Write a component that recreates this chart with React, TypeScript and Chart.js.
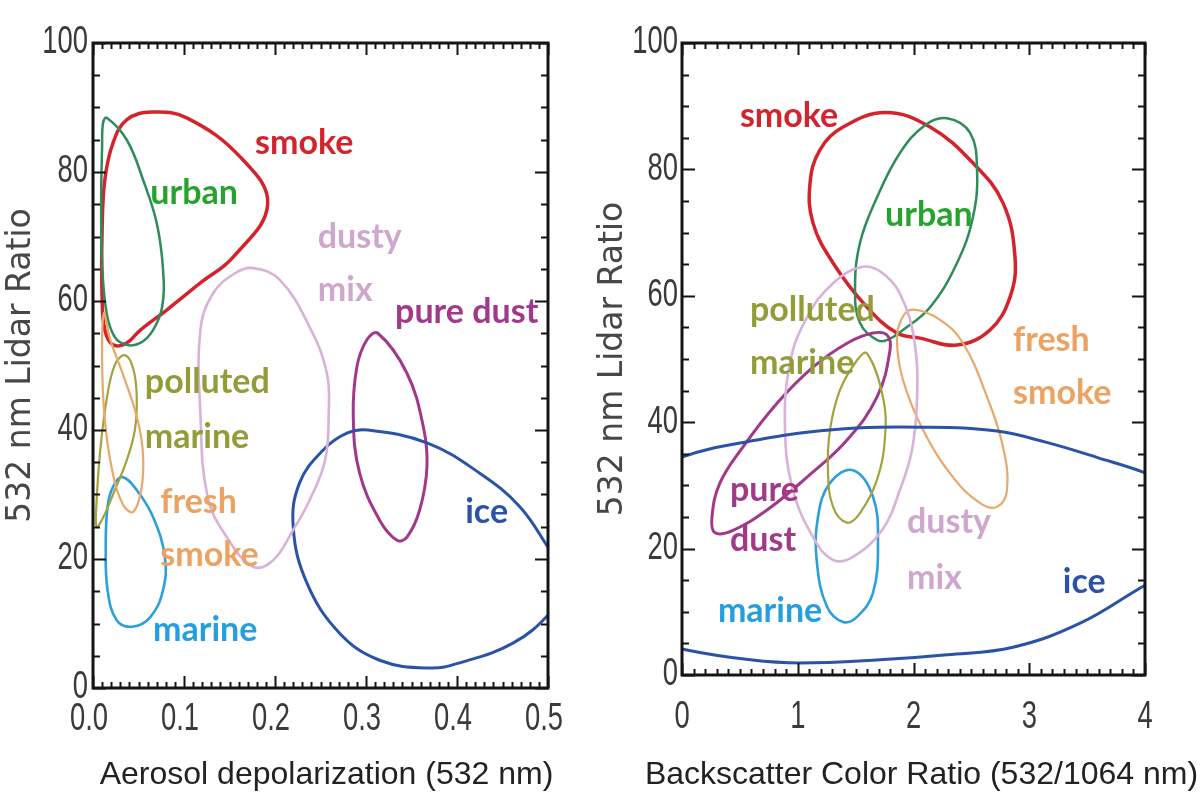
import React, { useEffect, useRef } from 'react';
import { Chart, registerables } from 'chart.js';

Chart.register(...registerables);

type P = [number, number];

// ---------- Left panel: Aerosol depolarization vs 532 nm lidar ratio ----------
const L_SMOKE: P[] = [[0.065, 89.3], [0.103, 88.4], [0.162, 82.3], [0.192, 75.0], [0.154, 66.8], [0.118, 62.8], [0.081, 58.6], [0.052, 55.5], [0.037, 53.5], [0.022, 53.2], [0.013, 55.5], [0.010, 60.6], [0.010, 71.0], [0.013, 78.8], [0.022, 84.5], [0.037, 88.1]];
const L_URBAN: P[] = [[0.015, 88.4], [0.037, 85.0], [0.055, 78.8], [0.070, 72.1], [0.077, 64.8], [0.076, 59.1], [0.066, 55.5], [0.052, 53.5], [0.037, 53.2], [0.024, 54.4], [0.015, 58.1], [0.010, 65.9], [0.009, 76.1], [0.010, 83.9], [0.011, 87.6]];
const L_POLLUTED: P[] = [[0.035, 51.6], [0.044, 49.6], [0.048, 45.4], [0.046, 40.0], [0.037, 35.3], [0.024, 30.7], [0.011, 26.4], [0.004, 25.0], [0.004, 29.1], [0.008, 36.9], [0.015, 44.7], [0.024, 50.1]];
const L_FRESH: P[] = [[0.012, 58.1], [0.019, 54.0], [0.035, 47.8], [0.049, 41.6], [0.055, 36.1], [0.053, 30.7], [0.044, 27.3], [0.033, 28.4], [0.021, 33.8], [0.013, 41.6], [0.010, 50.9]];
const L_MARINE: P[] = [[0.032, 32.7], [0.048, 30.7], [0.066, 26.5], [0.079, 20.3], [0.077, 15.2], [0.063, 11.0], [0.043, 9.5], [0.026, 10.5], [0.016, 15.2], [0.014, 21.9], [0.016, 28.1], [0.022, 31.2]];
const L_DUSTY: P[] = [[0.176, 65.1], [0.205, 63.3], [0.238, 56.0], [0.257, 48.8], [0.259, 42.6], [0.255, 35.3], [0.238, 29.1], [0.220, 24.5], [0.198, 19.8], [0.176, 18.8], [0.147, 23.4], [0.126, 29.6], [0.118, 42.6], [0.118, 55.5], [0.132, 61.2], [0.156, 64.3]];
const L_PURE: P[] = [[0.313, 55.0], [0.345, 48.8], [0.363, 40.5], [0.367, 34.3], [0.359, 27.6], [0.345, 23.4], [0.334, 22.9], [0.315, 26.0], [0.293, 33.3], [0.286, 42.0], [0.290, 49.8], [0.301, 54.0]];
const L_ICE: P[] = [[0.302, 40.0], [0.367, 38.0], [0.425, 33.3], [0.469, 28.1], [0.502, 21.4], [0.525, 16.5], [0.502, 11.6], [0.462, 7.0], [0.403, 3.9], [0.370, 3.1], [0.315, 4.3], [0.271, 8.5], [0.235, 16.3], [0.220, 25.0], [0.227, 31.8], [0.253, 36.9], [0.279, 39.5]];

const LEFT_LABEL_TEXT = ['smoke', 'urban', 'dusty', 'mix', 'pure dust', 'polluted', 'marine', 'fresh', 'smoke', 'ice', 'marine'];
const LEFT_LABEL_X = [0.178, 0.063, 0.247, 0.247, 0.332, 0.057, 0.057, 0.074, 0.074, 0.409, 0.066];
const LEFT_LABEL_Y = [84.5, 76.7, 69.9, 61.7, 58.3, 47.4, 38.9, 28.8, 20.6, 27.3, 9.0];
const LEFT_LABEL_KIND = ['smoke', 'urban', 'dusty', 'dusty', 'pure', 'polluted', 'polluted', 'fresh', 'fresh', 'ice', 'marine'];

// ---------- Right panel: Backscatter color ratio vs 532 nm lidar ratio ----------
const R_SMOKE: P[] = [[1.76, 89.0], [2.143, 86.7], [2.514, 81.0], [2.773, 74.7], [2.877, 66.1], [2.834, 59.8], [2.661, 54.6], [2.376, 52.2], [2.056, 53.3], [1.857, 54.1], [1.598, 58.2], [1.305, 65.2], [1.132, 71.5], [1.106, 77.8], [1.192, 83.1], [1.391, 86.7]];
const R_URBAN: P[] = [[2.289, 88.1], [2.488, 85.8], [2.549, 79.9], [2.514, 72.5], [2.376, 65.2], [2.143, 58.2], [1.909, 54.6], [1.771, 53.0], [1.685, 53.0], [1.538, 55.7], [1.495, 60.9], [1.538, 68.4], [1.685, 75.6], [1.883, 82.6], [2.099, 87.0]];
const R_DUSTY: P[] = [[1.564, 64.6], [1.754, 63.3], [1.909, 59.3], [2.013, 52.2], [2.030, 43.5], [1.987, 35.6], [1.883, 29.3], [1.728, 22.9], [1.477, 18.7], [1.305, 18.2], [1.132, 21.8], [0.959, 29.3], [0.890, 38.8], [0.933, 49.4], [1.080, 56.6], [1.305, 62.0]];
const R_PURE: P[] = [[1.797, 51.4], [1.685, 44.0], [1.426, 37.2], [1.080, 31.3], [0.734, 26.1], [0.441, 22.9], [0.285, 22.5], [0.259, 25.0], [0.328, 30.4], [0.527, 36.1], [0.821, 43.0], [1.132, 48.7], [1.426, 52.5], [1.650, 54.1], [1.771, 53.8]];
const R_POLLUTED: P[] = [[1.598, 50.9], [1.736, 44.0], [1.754, 37.7], [1.685, 30.9], [1.538, 25.6], [1.426, 24.1], [1.305, 26.6], [1.261, 32.4], [1.279, 38.8], [1.365, 45.1], [1.512, 49.8]];
const R_MARINE: P[] = [[1.477, 32.4], [1.650, 28.2], [1.693, 20.9], [1.650, 13.0], [1.512, 9.2], [1.391, 8.4], [1.253, 10.8], [1.166, 17.7], [1.175, 25.0], [1.279, 30.4]];
const R_FRESH: P[] = [[1.996, 57.8], [2.229, 56.2], [2.428, 52.5], [2.635, 44.0], [2.773, 36.1], [2.808, 29.3], [2.721, 26.6], [2.575, 27.2], [2.341, 31.3], [2.082, 38.8], [1.909, 46.7], [1.857, 53.0], [1.901, 56.5]];
const R_ICE: P[] = [[0.0, 34.5], [0.5, 36.7], [1.3, 38.8], [2.14, 39.2], [2.72, 38.6], [3.15, 36.8], [3.59, 34.4], [4.0, 32.0], [4.3, 29.5], [4.55, 23.0], [4.35, 17.5], [4.0, 14.2], [3.44, 8.2], [2.86, 4.4], [2.29, 3.2], [1.71, 2.4], [1.02, 1.9], [0.59, 2.4], [0.03, 4.0], [-0.5, 6.5], [-0.95, 14.0], [-1.0, 22.0], [-0.6, 30.0]];

const RIGHT_LABEL_TEXT = ['smoke', 'urban', 'polluted', 'marine', 'fresh', 'smoke', 'pure', 'dust', 'dusty', 'mix', 'ice', 'marine'];
const RIGHT_LABEL_X = [0.50, 1.754, 0.587, 0.587, 2.86, 2.86, 0.415, 0.415, 1.944, 1.944, 3.29, 0.31];
const RIGHT_LABEL_Y = [88.4, 72.8, 57.8, 49.4, 53.0, 44.6, 29.3, 21.4, 24.2, 15.3, 14.7, 10.1];
const RIGHT_LABEL_KIND = ['smoke', 'urban', 'polluted', 'polluted', 'fresh', 'fresh', 'pure', 'pure', 'dusty', 'dusty', 'ice', 'marine'];

const X_LEFT_TICKS = ['0.0', '0.1', '0.2', '0.3', '0.4', '0.5'];
const X_RIGHT_TICKS = ['0', '1', '2', '3', '4'];
const Y_TICKS = ['0', '20', '40', '60', '80', '100'];

// ---------- styles ----------
const CURVE_COLOR: Record<string, string> = {
  smoke: '#d3232d', urban: '#2e8c5a', polluted: '#a3a23e', fresh: '#eaa76a',
  marine: '#2c9fdc', dusty: '#d9b2d9', pure: '#a2388a', ice: '#2a53a8',
};
const LABEL_COLOR: Record<string, string> = {
  smoke: '#d3232d', urban: '#26a32c', polluted: '#929d3a', fresh: '#eca262',
  marine: '#239fe0', dusty: '#cfa6cd', pure: '#a2388a', ice: '#2a53a8',
};
const CURVE_WIDTH: Record<string, number> = {
  smoke: 3.5, urban: 2.5, polluted: 2.2, fresh: 2.2, marine: 2.6, dusty: 2.6, pure: 3, ice: 3,
};

function closedDataset(kind: string, pts: P[]) {
  const n = pts.length;
  const loop = [pts[n - 1], ...pts, pts[0], pts[1]].map(([x, y]) => ({ x, y }));
  return {
    data: loop,
    showLine: true,
    fill: false,
    tension: 0.4,
    capBezierPoints: false,
    borderColor: CURVE_COLOR[kind],
    borderWidth: CURVE_WIDTH[kind],
    pointRadius: 0,
    pointHoverRadius: 0,
    segment: {
      borderColor: (ctx: any) =>
        ctx.p0DataIndex === 0 || ctx.p0DataIndex === n + 1 ? 'rgba(0,0,0,0)' : undefined,
    },
  };
}

type Spec = {
  minorX: number; majorXEvery: number; nX: number; xStep: number;
  xTicks: string[]; xTickDx: number; xTickDy: number; yTickDx: number;
  xTitle: string; xTitleDx: number;
  labels: { t: string[]; x: number[]; y: number[]; k: string[] };
};

const TICK_FONT = '38px "Liberation Sans", Arial, sans-serif';
const TITLE_FONT = '32px "Liberation Sans", Arial, sans-serif';
const LABEL_FONT = 'bold 34px Lato, "Open Sans", sans-serif';

function drawNarrow(ctx: CanvasRenderingContext2D, text: string, x: number, y: number, align: CanvasTextAlign) {
  ctx.save();
  ctx.translate(x, y);
  ctx.scale(0.72, 1);
  ctx.textAlign = align;
  ctx.textBaseline = 'middle';
  ctx.fillText(text, 0, 0);
  ctx.restore();
}

function panelPlugin(spec: Spec) {
  return {
    id: 'panelFrame',
    afterDatasetsDraw(chart: any) {
      const { ctx, chartArea: a, scales } = chart;
      const xs = scales.x, ys = scales.y;
      ctx.save();
      // inward tick marks on all four sides
      ctx.strokeStyle = '#141414';
      ctx.lineWidth = 2;
      ctx.beginPath();
      for (let i = 0; i <= spec.nX; i++) {
        const px = Math.round(xs.getPixelForValue(xs.min + i * spec.minorX)) + 0.5;
        const len = i % spec.majorXEvery === 0 ? 12 : 6;
        ctx.moveTo(px, a.bottom); ctx.lineTo(px, a.bottom - len);
        ctx.moveTo(px, a.top); ctx.lineTo(px, a.top + len);
      }
      for (let i = 0; i <= 20; i++) {
        const py = Math.round(ys.getPixelForValue(i * 5)) + 0.5;
        const len = i % 4 === 0 ? 13 : 7;
        ctx.moveTo(a.left, py); ctx.lineTo(a.left + len, py);
        ctx.moveTo(a.right, py); ctx.lineTo(a.right - len, py);
      }
      ctx.stroke();
      ctx.lineWidth = 3;
      ctx.strokeRect(a.left, a.top, a.right - a.left, a.bottom - a.top);

      // tick labels (narrow face)
      ctx.fillStyle = '#3a3a3a';
      ctx.font = TICK_FONT;
      spec.xTicks.forEach((t, i) => {
        drawNarrow(ctx, t, xs.getPixelForValue(i * spec.xStep) + spec.xTickDx, a.bottom + spec.xTickDy, 'center');
      });
      Y_TICKS.forEach((t, i) => {
        drawNarrow(ctx, t, a.left - spec.yTickDx, ys.getPixelForValue(i * 20), 'right');
      });

      // x axis title
      ctx.fillStyle = '#222';
      ctx.font = TITLE_FONT;
      ctx.textAlign = 'center';
      ctx.textBaseline = 'middle';
      ctx.fillText(spec.xTitle, (a.left + a.right) / 2 + spec.xTitleDx, 775);

      // region labels
      ctx.font = LABEL_FONT;
      ctx.textAlign = 'left';
      const L = spec.labels;
      for (let i = 0; i < L.t.length; i++) {
        ctx.fillStyle = LABEL_COLOR[L.k[i]];
        ctx.fillText(L.t[i], xs.getPixelForValue(L.x[i]), ys.getPixelForValue(L.y[i]));
      }
      ctx.restore();
    },
  };
}

const YTITLE_FONT = { family: '"DejaVu Sans", sans-serif', size: 33, lineHeight: 1.2 };

function makeConfig(opts: {
  datasets: any[]; xMax: number; yWidth: number; xHeight: number; padRight: number; yTitlePad: number; spec: Spec;
}) {
  return {
    type: 'scatter' as const,
    data: { datasets: opts.datasets },
    options: {
      responsive: false,
      animation: false as const,
      events: [],
      layout: { padding: { top: 43, right: opts.padRight, left: 0, bottom: 0 } },
      plugins: { legend: { display: false }, tooltip: { enabled: false } },
      scales: {
        x: {
          type: 'linear' as const, min: 0, max: opts.xMax,
          grid: { display: false, drawTicks: false }, border: { display: false },
          ticks: { display: false },
          afterFit: (s: any) => { s.height = opts.xHeight; },
        },
        y: {
          type: 'linear' as const, min: 0, max: 100,
          grid: { display: false, drawTicks: false }, border: { display: false },
          ticks: { display: false, stepSize: 20 },
          title: { display: true, text: '532 nm Lidar Ratio', color: '#474747', font: YTITLE_FONT, padding: { top: opts.yTitlePad, bottom: 0 } },
          afterFit: (s: any) => { s.width = opts.yWidth; },
        },
      },
    },
    plugins: [panelPlugin(opts.spec)],
  };
}

export default function App() {
  const leftRef = useRef<HTMLCanvasElement>(null);
  const rightRef = useRef<HTMLCanvasElement>(null);

  useEffect(() => {
    const leftSets = [
      closedDataset('dusty', L_DUSTY), closedDataset('ice', L_ICE), closedDataset('pure', L_PURE),
      closedDataset('fresh', L_FRESH), closedDataset('polluted', L_POLLUTED), closedDataset('marine', L_MARINE),
      closedDataset('urban', L_URBAN), closedDataset('smoke', L_SMOKE),
    ];
    const rightSets = [
      closedDataset('ice', R_ICE), closedDataset('dusty', R_DUSTY), closedDataset('fresh', R_FRESH),
      closedDataset('polluted', R_POLLUTED), closedDataset('marine', R_MARINE), closedDataset('pure', R_PURE),
      closedDataset('urban', R_URBAN), closedDataset('smoke', R_SMOKE),
    ];
    const left = new Chart(leftRef.current as HTMLCanvasElement, makeConfig({
      datasets: leftSets, xMax: 0.5, yWidth: 93, xHeight: 120, padRight: 52, yTitlePad: 2,
      spec: {
        minorX: 0.01, majorXEvery: 10, nX: 50, xStep: 0.1, xTicks: X_LEFT_TICKS, xTickDx: -4, xTickDy: 32, yTickDx: 5,
        xTitle: 'Aerosol depolarization (532 nm)', xTitleDx: 6,
        labels: { t: LEFT_LABEL_TEXT, x: LEFT_LABEL_X, y: LEFT_LABEL_Y, k: LEFT_LABEL_KIND },
      },
    }) as any);
    const right = new Chart(rightRef.current as HTMLCanvasElement, makeConfig({
      datasets: rightSets, xMax: 4, yWidth: 92, xHeight: 133, padRight: 58, yTitlePad: 4,
      spec: {
        minorX: 0.1, majorXEvery: 10, nX: 40, xStep: 1, xTicks: X_RIGHT_TICKS, xTickDx: 0, xTickDy: 43, yTickDx: 4,
        xTitle: 'Backscatter Color Ratio (532/1064 nm)', xTitleDx: 8,
        labels: { t: RIGHT_LABEL_TEXT, x: RIGHT_LABEL_X, y: RIGHT_LABEL_Y, k: RIGHT_LABEL_KIND },
      },
    }) as any);
    return () => { left.destroy(); right.destroy(); };
  }, []);

  return (
    <div style={{ position: 'fixed', left: 0, top: 0, width: 1203, height: 808, background: '#fff', overflow: 'hidden' }}>
      <canvas ref={leftRef} width={600} height={808} style={{ position: 'absolute', left: 0, top: 0 }} />
      <canvas ref={rightRef} width={613} height={808} style={{ position: 'absolute', left: 590, top: 0 }} />
    </div>
  );
}
